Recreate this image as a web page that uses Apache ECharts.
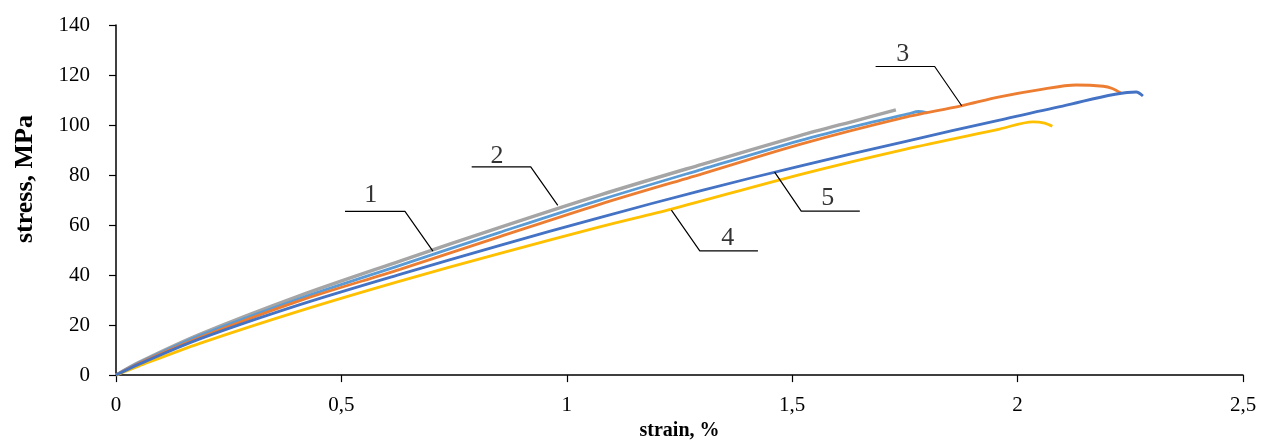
<!DOCTYPE html>
<html>
<head>
<meta charset="utf-8">
<script src="https://cdn.jsdelivr.net/npm/echarts@6/dist/echarts.min.js"></script>
<style>
html,body{margin:0;padding:0;background:#fff;}
#chart{width:1268px;height:446px;}
</style>
</head>
<body>
<div id="chart"></div>
<script>
// ---- data (strain %, stress MPa) ----
const strain1 = [0, 0.05, 0.186, 0.408, 0.63, 0.85, 1.073, 1.3, 1.517, 1.65, 1.73];
const stress1 = [0, 5.0, 16.3, 31.8, 45.6, 59.0, 72.0, 84.3, 95.8, 102.2, 106.1];

const strain2 = [0, 0.05, 0.186, 0.408, 0.63, 0.85, 1.073, 1.3, 1.517, 1.65, 1.76, 1.78, 1.80];
const stress2 = [0, 4.8, 15.8, 30.6, 43.9, 57.0, 70.0, 82.3, 93.8, 100.0, 104.6, 105.4, 104.9];

const strain3 = [0, 0.05, 0.186, 0.408, 0.63, 0.85, 1.073, 1.3, 1.517, 1.738, 1.875, 1.96, 2.05, 2.13, 2.19, 2.21, 2.23];
const stress3 = [0, 4.6, 15.0, 29.8, 42.3, 55.3, 68.3, 80.5, 92.3, 102.6, 107.7, 111.3, 114.2, 116.0, 115.5, 114.6, 112.7];

const strain4 = [0, 0.05, 0.186, 0.408, 0.63, 0.85, 1.073, 1.232, 1.517, 1.75, 1.96, 2.034, 2.06, 2.077];
const stress4 = [0, 3.6, 12.7, 25.7, 37.6, 48.6, 59.3, 66.4, 80.2, 90.3, 98.4, 101.3, 100.8, 99.5];

const strain5 = [0, 0.05, 0.186, 0.408, 0.63, 0.85, 1.073, 1.3, 1.517, 1.75, 1.96, 2.1, 2.263, 2.278];
const stress5 = [0, 4.3, 14.5, 28.2, 40.3, 51.8, 63.0, 73.9, 83.6, 93.4, 102.0, 107.6, 113.2, 111.6];

const xTickLabels = ['0', '0,5', '1', '1,5', '2', '2,5'];
const yTickLabels = ['0', '20', '40', '60', '80', '100', '120', '140'];

// curve labels: number, text position, leader horizontal start/end, leader end on the curve
const labelNames = ['1', '2', '3', '4', '5'];
const labelTextX = [0.565, 0.845, 1.745, 1.357, 1.579];
const labelTextY = [71.8, 87.7, 128.2, 54.8, 70.6];
const leaderHx0 = [0.508, 0.789, 1.685, 1.295, 1.520];
const leaderHx1 = [0.641, 0.920, 1.816, 1.424, 1.650];
const leaderHy  = [65.5, 83.3, 123.4, 49.7, 65.6];
const leaderTipX = [0.703, 0.980, 1.876, 1.232, 1.461];
const leaderTipY = [49.6, 67.9, 107.7, 66.0, 81.2];
// which end of the horizontal connects to the tip: 1 = right end, 0 = left end
const leaderJoin = [1, 1, 1, 0, 0];

const colors = ['#A5A5A5', '#5B9BD5', '#ED7D31', '#FFC000', '#4472C4'];

function pairs(xs, ys){ return xs.map((x,i)=>[x, ys[i]]); }

const leaderData = [];
labelNames.forEach((n,i)=>{
  const jx = leaderJoin[i] ? leaderHx1[i] : leaderHx0[i];
  const ox = leaderJoin[i] ? leaderHx0[i] : leaderHx1[i];
  leaderData.push([ox, leaderHy[i]]);
  leaderData.push([jx, leaderHy[i]]);
  leaderData.push([leaderTipX[i], leaderTipY[i]]);
  leaderData.push('-');
});

const font = 'Liberation Serif';
const chart = echarts.init(document.getElementById('chart'));

const curveSeries = [
  [strain1, stress1, 3.4],
  [strain2, stress2, 2.8],
  [strain3, stress3, 2.8],
  [strain4, stress4, 2.8],
  [strain5, stress5, 2.8]
].map((c,i)=>({
  type: 'line',
  data: pairs(c[0], c[1]),
  smooth: 0.3,
  symbol: 'none',
  lineStyle: {color: colors[i], width: c[2]},
  z: 2 + i
}));

chart.setOption({
  animation: false,
  backgroundColor: '#fff',
  grid: {left: 116, right: 25, top: 25, bottom: 68},
  xAxis: {
    type: 'value', min: 0, max: 2.5, interval: 0.5,
    name: 'strain, %', nameLocation: 'middle', nameGap: 45,
    nameTextStyle: {fontFamily: font, fontWeight: 'bold', fontSize: 20, color: '#000'},
    axisLine: {lineStyle: {color: '#000', width: 1.5}},
    axisTick: {show: true, length: 7, lineStyle: {color: '#000', width: 1.2}},
    axisLabel: {fontFamily: font, fontSize: 21, color: '#000', margin: 20,
      formatter: v => xTickLabels[Math.round(v / 0.5)]},
    splitLine: {show: false}
  },
  yAxis: {
    type: 'value', min: 0, max: 140, interval: 20,
    name: 'stress, MPa', nameLocation: 'middle', nameGap: 78, nameRotate: 90,
    nameTextStyle: {fontFamily: font, fontWeight: 'bold', fontSize: 26, color: '#000', padding: [0,0,0,42]},
    axisLine: {show: true, lineStyle: {color: '#000', width: 1.5}},
    axisTick: {show: true, length: 7, lineStyle: {color: '#000', width: 1.2}},
    axisLabel: {fontFamily: font, fontSize: 21, color: '#000', margin: 26,
      formatter: v => yTickLabels[Math.round(v / 20)]},
    splitLine: {show: false}
  },
  series: curveSeries.concat([
    {
      type: 'line', data: leaderData, symbol: 'none', connectNulls: false,
      lineStyle: {color: '#000', width: 1.2}, z: 10
    },
    {
      type: 'scatter', symbolSize: 0, z: 11,
      data: labelNames.map((n,i)=>({name: n, value: [labelTextX[i], labelTextY[i]]})),
      label: {show: true, position: 'inside', formatter: p => p.name,
        fontFamily: font, fontSize: 26, color: '#000'}
    }
  ])
});
</script>
</body>
</html>
